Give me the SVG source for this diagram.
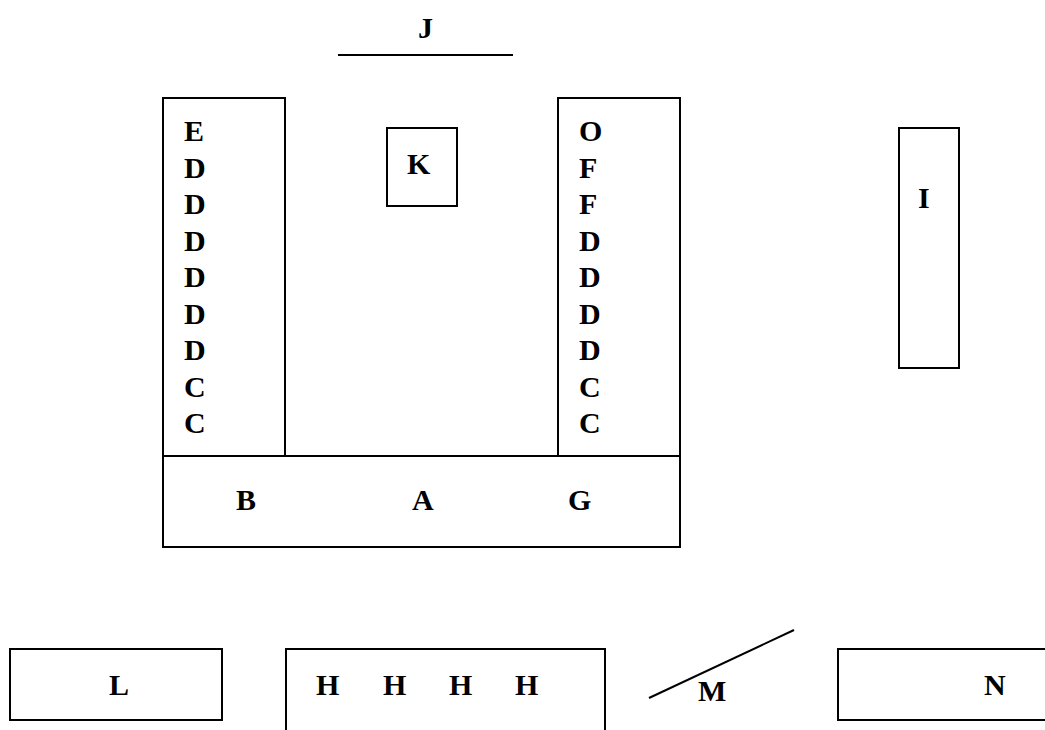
<svg xmlns="http://www.w3.org/2000/svg" width="1045" height="730" viewBox="0 0 1045 730">
<style>
.b{fill:#fff;stroke:#000;stroke-width:2}
.l{stroke:#000;stroke-width:2;fill:none}
text{font-family:"Liberation Serif","Times New Roman",serif;font-weight:bold;font-size:30px;fill:#000}
</style>
<rect width="1045" height="730" fill="#fff"/>
<g id="J"><line class="l" x1="338" y1="55" x2="513" y2="55"/><text x="418" y="38">J</text></g>
<g id="left"><rect class="b" x="163" y="98" width="122" height="358"/>
<text x="184" y="141">E</text><text x="184" y="178">D</text><text x="184" y="214">D</text><text x="184" y="251">D</text><text x="184" y="287">D</text><text x="184" y="324">D</text><text x="184" y="360">D</text><text x="184" y="397">C</text><text x="184" y="433">C</text></g>
<g id="right"><rect class="b" x="558" y="98" width="122" height="358"/>
<text x="579" y="141">O</text><text x="579" y="178">F</text><text x="579" y="214">F</text><text x="579" y="251">D</text><text x="579" y="287">D</text><text x="579" y="324">D</text><text x="579" y="360">D</text><text x="579" y="397">C</text><text x="579" y="433">C</text></g>
<g id="K"><rect class="b" x="387" y="128" width="70" height="78"/><text x="407" y="174">K</text></g>
<g id="A"><rect class="b" x="163" y="456" width="517" height="91"/><text x="236" y="510">B</text><text x="412" y="510">A</text><text x="568" y="510">G</text></g>
<g id="I"><rect class="b" x="899" y="128" width="60" height="240"/><text x="918" y="208">I</text></g>
<g id="L"><rect class="b" x="10" y="649" width="212" height="71"/><text x="109" y="695">L</text></g>
<g id="H"><rect class="b" x="286" y="649" width="319" height="90"/><text x="316" y="695">H</text><text x="383" y="695">H</text><text x="449" y="695">H</text><text x="515" y="695">H</text></g>
<g id="M"><line class="l" x1="649" y1="698" x2="794" y2="630"/><text x="698" y="701">M</text></g>
<g id="N"><rect class="b" x="838" y="649" width="220" height="71"/><text x="984" y="695">N</text></g>
</svg>
